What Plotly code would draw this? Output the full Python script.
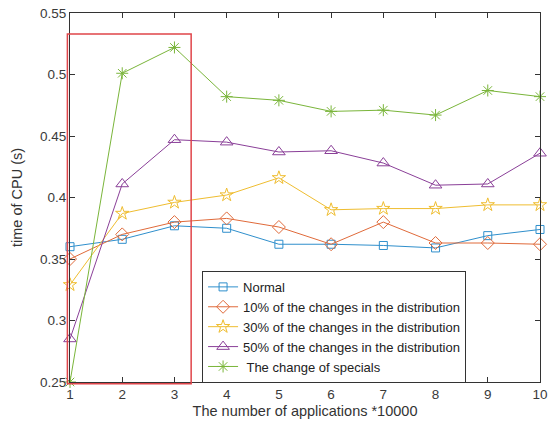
import plotly.graph_objects as go

x = [1, 2, 3, 4, 5, 6, 7, 8, 9, 10]
normal = [0.360, 0.366, 0.377, 0.375, 0.362, 0.362, 0.361, 0.359, 0.369, 0.374]
p10 = [0.350, 0.370, 0.380, 0.383, 0.376, 0.362, 0.380, 0.363, 0.363, 0.362]
p30 = [0.329, 0.387, 0.396, 0.402, 0.416, 0.390, 0.391, 0.391, 0.394, 0.394]
p50 = [0.285, 0.411, 0.447, 0.445, 0.437, 0.438, 0.428, 0.410, 0.411, 0.436]
specials = [0.250, 0.501, 0.522, 0.482, 0.479, 0.470, 0.471, 0.467, 0.487, 0.482]

names = ["Normal", "10% of the changes in the distribution",
         "30% of the changes in the distribution",
         "50% of the changes in the distribution", " The change of specials"]
series = [normal, p10, p30, p50, specials]
colors = ["#2f8fcc", "#e06a3a", "#efbd30", "#8a3f98", "#7ab53a"]
symbols = ["square-open", "diamond-open", "star-open", "triangle-up-open", "asterisk-open"]
sizes = [8, 10, 10, 11, 10]

x_range = [1, 10]
y_range = [0.25, 0.55]
rect_x = [0.95, 3.32]
rect_y = [0.2485, 0.533]


def px(v):
    return (v - x_range[0]) / (x_range[1] - x_range[0])


def py(v):
    return (v - y_range[0]) / (y_range[1] - y_range[0])


fig = go.Figure()
for n, s, c, m, sz in zip(names, series, colors, symbols, sizes):
    fig.add_trace(go.Scatter(x=x, y=s, name=n, mode="lines+markers", cliponaxis=False,
                             line=dict(color=c, width=1),
                             marker=dict(symbol=m, size=sz, color=c, line=dict(color=c, width=1))))

fig.add_shape(type="rect", xref="paper", yref="paper", x0=px(rect_x[0]), x1=px(rect_x[1]),
              y0=py(rect_y[0]), y1=py(rect_y[1]), line=dict(color="#e0454a", width=1.5))

axis_common = dict(showgrid=False, zeroline=False, showline=True, linecolor="#333333",
                   linewidth=1, mirror="ticks", ticks="inside", ticklen=5, tickcolor="#333333",
                   automargin=False,
                   tickfont=dict(family="Liberation Sans, Arial", size=13.5, color="#3a3a3a"))

fig.update_layout(
    width=556, height=430,
    margin=dict(l=70, r=16, t=13, b=48),
    paper_bgcolor="white", plot_bgcolor="white",
    xaxis=dict(range=x_range, tickvals=x, title=dict(text="The number of applications *10000",
               font=dict(family="Liberation Sans, Arial", size=14.5, color="#333333"), standoff=4),
               **axis_common),
    yaxis=dict(range=y_range, tickvals=[0.25, 0.3, 0.35, 0.4, 0.45, 0.5, 0.55],
               ticktext=["0.25", "0.3", "0.35", "0.4", "0.45", "0.5", "0.55"],
               title=dict(text="time of CPU (s)",
               font=dict(family="Liberation Sans, Arial", size=14.5, color="#333333"), standoff=13),
               **axis_common),
    legend=dict(x=0.281, y=0.301, xanchor="left", yanchor="top",
                bgcolor="white", bordercolor="#333333", borderwidth=1,
                font=dict(family="Liberation Sans, Arial", size=13, color="#222222"),
                tracegroupgap=0, itemwidth=30),
    showlegend=True,
)

fig.write_html("out.html", config={"displayModeBar": False},
               post_script="document.body.style.margin='0';")
